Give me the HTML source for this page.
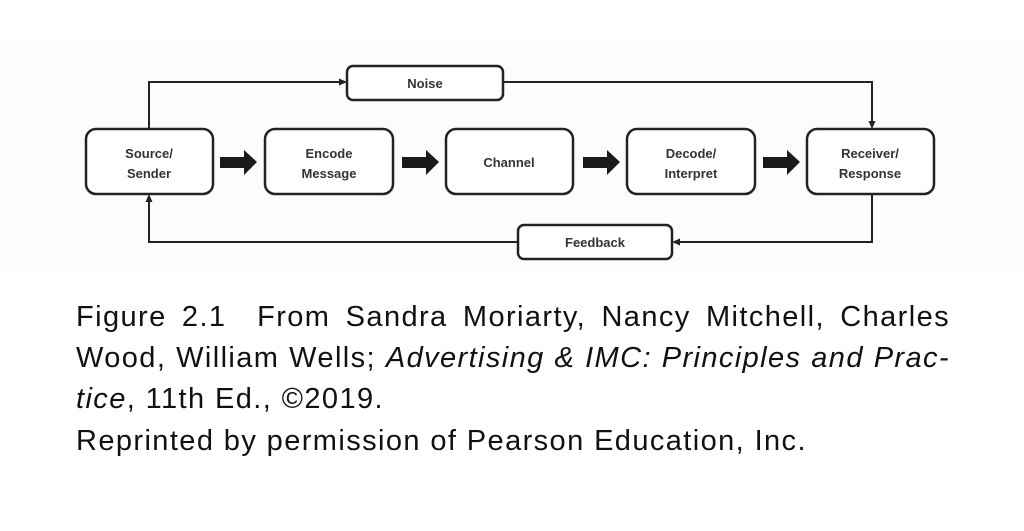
<!DOCTYPE html>
<html><head><style>
body{margin:0;width:1024px;height:531px;background:#fff;position:relative;overflow:hidden;font-family:"Liberation Sans",sans-serif}
.l{position:absolute;left:76px;font-size:29px;color:#111;white-space:nowrap;line-height:34px;letter-spacing:1.4px}
.j{width:874px;text-align:justify;text-align-last:justify;white-space:normal}
</style></head><body>
<svg width="1024" height="290" style="position:absolute;left:0;top:0" xmlns="http://www.w3.org/2000/svg">
<rect x="0" y="40" width="1024" height="230" fill="#fcfcfc"/>
<g fill="none" stroke="#222" stroke-width="2">
<polyline points="149,129 149,82 340,82"/>
<polyline points="503,82 872,82 872,123"/>
<polyline points="872,194 872,242 678,242"/>
<polyline points="518,242 149,242 149,200"/>
</g>
<g fill="#222">
<polygon points="347,82 339,78.5 339,85.5"/>
<polygon points="872,129 868.5,121 875.5,121"/>
<polygon points="672,242 680,238.5 680,245.5"/>
<polygon points="149,194 145.5,202 152.5,202"/>
</g>
<g fill="#fff" stroke="#222" stroke-width="2.5">
<rect x="86" y="129" width="127" height="65" rx="10"/>
<rect x="265" y="129" width="128" height="65" rx="10"/>
<rect x="446" y="129" width="127" height="65" rx="10"/>
<rect x="627" y="129" width="128" height="65" rx="10"/>
<rect x="807" y="129" width="127" height="65" rx="10"/>
<rect x="347" y="66" width="156" height="34" rx="6"/>
<rect x="518" y="225" width="154" height="34" rx="6"/>
</g>
<g fill="#1a1a1a">
<polygon points="220,157 244,157 244,150 257,162 244,175 244,168 220,168"/>
<polygon points="402,157 426,157 426,150 439,162 426,175 426,168 402,168"/>
<polygon points="583,157 607,157 607,150 620,162 607,175 607,168 583,168"/>
<polygon points="763,157 787,157 787,150 800,162 787,175 787,168 763,168"/>
</g>
<g font-family="Liberation Sans, sans-serif" font-weight="bold" font-size="13" fill="#333" text-anchor="middle">
<text x="149" y="158">Source/</text><text x="149" y="178">Sender</text>
<text x="329" y="158">Encode</text><text x="329" y="178">Message</text>
<text x="509" y="167">Channel</text>
<text x="691" y="158">Decode/</text><text x="691" y="178">Interpret</text>
<text x="870" y="158">Receiver/</text><text x="870" y="178">Response</text>
<text x="425" y="88">Noise</text>
<text x="595" y="247">Feedback</text>
</g>
</svg>
<div class="l j" style="top:300px">Figure 2.1&nbsp; From Sandra Moriarty, Nancy Mitchell, Charles</div>
<div class="l j" style="top:341px">Wood, William Wells; <i>Advertising &amp; IMC: Principles and Prac-</i></div>
<div class="l" style="top:382px"><i>tice</i>, 11th Ed., ©2019.</div>
<div class="l" style="top:424px">Reprinted by permission of Pearson Education, Inc.</div>
</body></html>
